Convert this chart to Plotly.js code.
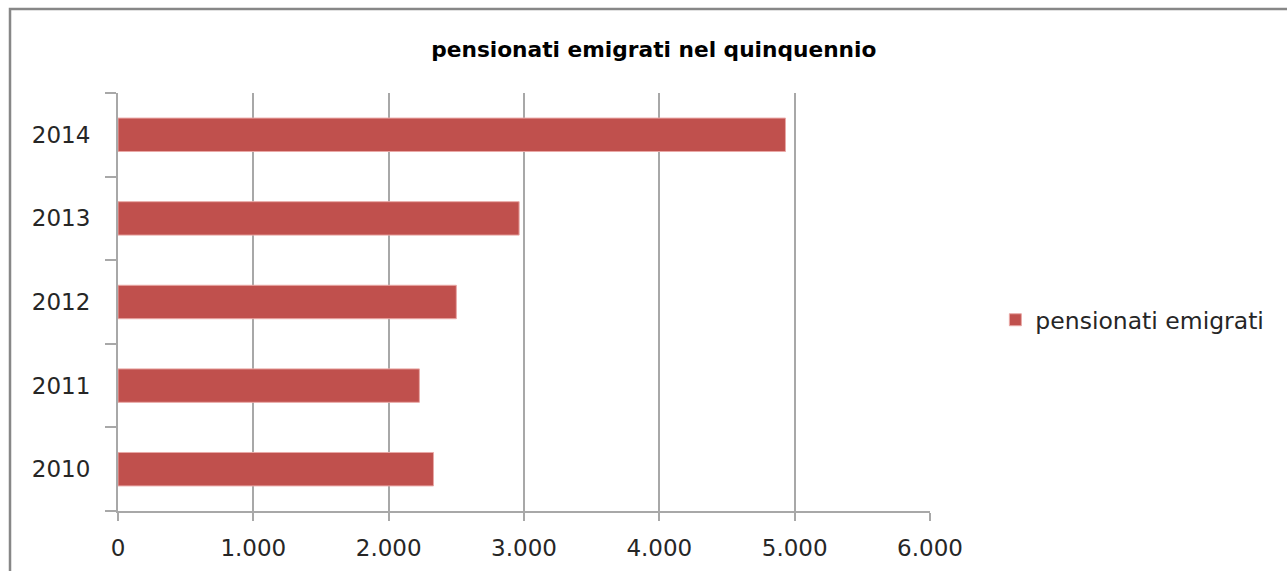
<!DOCTYPE html>
<html>
<head>
<meta charset="utf-8">
<script src="https://cdn.plot.ly/plotly-3.0.1.min.js"></script>
<style>
html,body{margin:0;padding:0;background:#fff;}
#chart{width:1287px;height:571px;}
</style>
</head>
<body>
<div id="chart"></div>
<script>
var years = ["2010", "2011", "2012", "2013", "2014"];
var pensionatiEmigrati = [2331, 2227, 2500, 2964, 4932];
var xTickVals = [0, 1000, 2000, 3000, 4000, 5000, 6000];
var xTickText = ["0", "1.000", "2.000", "3.000", "4.000", "5.000", "6.000"];
var seriesName = "pensionati emigrati";
var chartTitle = "pensionati emigrati nel quinquennio";

var trace = {
  type: "bar",
  orientation: "h",
  y: years,
  x: pensionatiEmigrati,
  name: seriesName,
  showlegend: true,
  marker: {color: "#c0504d", line: {color: "#e9a8a6", width: 1}},
  hoverinfo: "x+y"
};

var gridCol = "#a8a8a8";
var tickFont = {family: "DejaVu Sans, sans-serif", size: 23, color: "#262626"};
var layout = {
  width: 1287,
  height: 571,
  margin: {l: 118, r: 357, t: 93, b: 60, pad: 0},
  paper_bgcolor: "#ffffff",
  plot_bgcolor: "#ffffff",
  font: {family: "DejaVu Sans, sans-serif", color: "#262626", size: 23},
  title: {
    text: "<b>" + chartTitle + "</b>",
    font: {family: "DejaVu Sans, sans-serif", size: 21.7, color: "#000000"},
    xref: "container", x: 0.508, xanchor: "center",
    yref: "container", y: 0.913, yanchor: "middle"
  },
  bargap: 0.6,
  xaxis: {
    range: [0, 6000],
    tickvals: xTickVals,
    ticktext: xTickText,
    showgrid: true,
    gridcolor: gridCol,
    gridwidth: 2,
    zeroline: false,
    showline: true,
    linecolor: gridCol,
    linewidth: 2,
    ticks: "outside",
    ticklen: 8,
    tickcolor: gridCol,
    tickwidth: 2,
    ticklabelstandoff: 7,
    tickfont: tickFont,
    fixedrange: true
  },
  yaxis: {
    type: "category",
    categoryorder: "array",
    categoryarray: years,
    showgrid: false,
    zeroline: false,
    showline: true,
    linecolor: gridCol,
    linewidth: 2,
    ticks: "outside",
    tickson: "boundaries",
    ticklen: 11,
    tickcolor: gridCol,
    tickwidth: 2,
    ticklabelstandoff: 21,
    tickfont: tickFont,
    fixedrange: true
  },
  legend: {
    x: 1.0805, xanchor: "left",
    y: 0.457, yanchor: "middle",
    font: {family: "DejaVu Sans, sans-serif", size: 23.5, color: "#262626"},
    bgcolor: "rgba(0,0,0,0)",
    itemwidth: 30
  },
  shapes: [{
    type: "rect",
    xref: "paper", yref: "paper",
    x0: -0.1330, x1: 1.7,
    y0: -0.3, y1: 1.201,
    line: {color: "#878787", width: 2.5},
    fillcolor: "rgba(0,0,0,0)",
    layer: "below"
  }]
};

Plotly.newPlot("chart", [trace], layout, {displayModeBar: false, staticPlot: true});
</script>
</body>
</html>
